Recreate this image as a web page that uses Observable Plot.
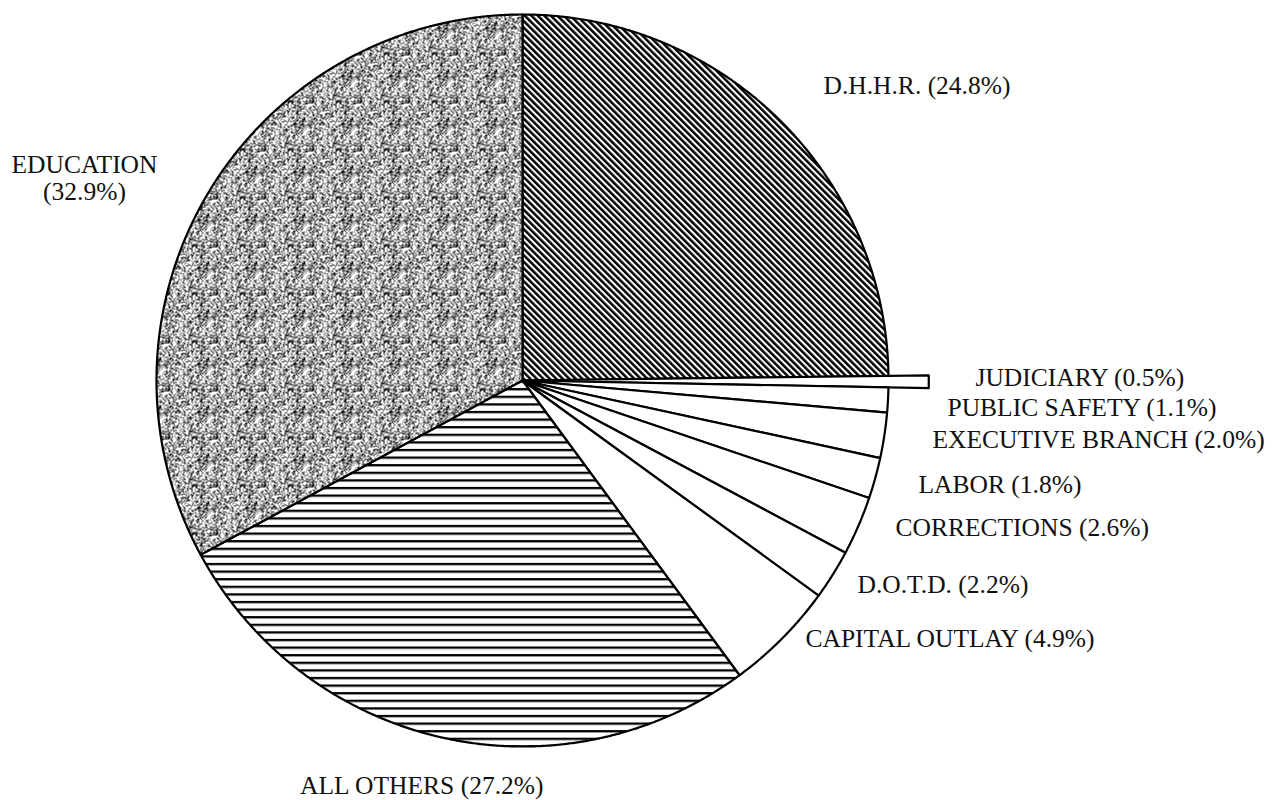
<!DOCTYPE html>
<html><head><meta charset="utf-8">
<script src="https://cdn.jsdelivr.net/npm/d3@7"></script>
<script src="https://cdn.jsdelivr.net/npm/@observablehq/plot@0.6"></script>
<style>html,body{margin:0;padding:0;background:#fff;} #chart svg{display:block;}</style>
</head><body><div id="chart"></div>
<script>
// ---- data ----
const categories = ["D.H.H.R.", "JUDICIARY", "PUBLIC SAFETY", "EXECUTIVE BRANCH", "LABOR", "CORRECTIONS", "D.O.T.D.", "CAPITAL OUTLAY", "ALL OTHERS", "EDUCATION"];
const shares = [24.8, 0.5, 1.1, 2.0, 1.8, 2.6, 2.2, 4.9, 27.2, 32.9];
const labelText = ["D.H.H.R. (24.8%)", "JUDICIARY (0.5%)", "PUBLIC SAFETY (1.1%)", "EXECUTIVE BRANCH (2.0%)", "LABOR (1.8%)", "CORRECTIONS (2.6%)", "D.O.T.D. (2.2%)", "CAPITAL OUTLAY (4.9%)", "ALL OTHERS (27.2%)", "EDUCATION\n(32.9%)"];

// ---- style ----
const sliceFill = ["url(#hatch)", "white", "white", "white", "white", "white", "white", "white", "url(#hlines)", "url(#stipple)"];
const sliceRadius = [1, 1.11, 1, 1, 1, 1, 1, 1, 1, 1];

// ---- layout (pixels) ----
const W = 1276, H = 800, R = 366, CX = 522, CY = 380;
const labelX = [823, 975, 947, 932, 918, 895, 857, 805, 543, 84];
const labelY = [85, 377, 407, 439, 484, 527, 584, 638, 785, 177];
const labelAnchor = ["start", "start", "start", "start", "start", "start", "start", "start", "end", "middle"];

// slice outlines in pie units (radius 1)
const pts = [];
let cum = 0;
shares.forEach((s, i) => {
  const a0 = cum / 100 * 2 * Math.PI;
  cum += s;
  const a1 = cum / 100 * 2 * Math.PI;
  const r = sliceRadius[i];
  const n = Math.max(2, Math.ceil((a1 - a0) / (Math.PI / 720)));
  pts.push({slice: categories[i], fill: sliceFill[i], x: 0, y: 0});
  for (let k = 0; k <= n; k++) {
    const a = a0 + (a1 - a0) * k / n;
    pts.push({slice: categories[i], fill: sliceFill[i], x: r * Math.sin(a), y: r * Math.cos(a)});
  }
  pts.push({slice: categories[i], fill: sliceFill[i], x: 0, y: 0});
});

const labels = categories.map((c, i) => ({
  text: labelText[i],
  anchor: labelAnchor[i],
  x: (labelX[i] - CX) / R,
  y: (CY - labelY[i]) / R
}));

const font = {fontFamily: "'Liberation Serif', 'Times New Roman', serif", fontSize: 25.5, fill: "#111"};

const plot = Plot.plot({
  width: W, height: H,
  margin: 0,
  style: {background: "white"},
  x: {domain: [-CX / R, (W - CX) / R], axis: null},
  y: {domain: [-(H - CY) / R, CY / R], axis: null},
  color: {type: "identity"},
  marks: [
    Plot.line(pts, {x: "x", y: "y", z: "slice", fill: "fill", stroke: "black", strokeWidth: 2.2, strokeLinejoin: "round"}),
    ...["start", "middle", "end"].map(a => Plot.text(labels.filter(d => d.anchor === a), {
      x: "x", y: "y", text: "text", textAnchor: a, lineAnchor: "middle", lineHeight: 1.06, ...font
    }))
  ]
});

// patterns (texture only)
const defs = d3.select(plot).insert("defs", ":first-child");
const hatch = defs.append("pattern").attr("id", "hatch").attr("patternUnits", "userSpaceOnUse")
  .attr("width", 4.6).attr("height", 4.6).attr("patternTransform", "rotate(-45)");
hatch.append("rect").attr("width", 4.6).attr("height", 4.6).attr("fill", "white");
hatch.append("rect").attr("width", 2.5).attr("height", 4.6).attr("fill", "black");

const hl = defs.append("pattern").attr("id", "hlines").attr("patternUnits", "userSpaceOnUse")
  .attr("width", 10).attr("height", 7.6);
hl.append("rect").attr("width", 10).attr("height", 7.6).attr("fill", "white");
hl.append("rect").attr("width", 10).attr("height", 2.3).attr("fill", "black");

// deterministic speckle texture (integer hash)
const T = 48;
const st = defs.append("pattern").attr("id", "stipple").attr("patternUnits", "userSpaceOnUse")
  .attr("width", T).attr("height", T);
st.append("rect").attr("width", T).attr("height", T).attr("fill", "white");
function hash(x, y) {
  let h = Math.imul(x, 374761393) + Math.imul(y, 668265263);
  h = Math.imul(h ^ (h >>> 13), 1274126177);
  h ^= h >>> 16;
  return (h >>> 0) / 4294967296;
}
let dpath = "";
for (let yy = 0; yy < T; yy++) for (let xx = 0; xx < T; xx++) {
  if (hash(xx, yy) < 0.38) dpath += `M${xx},${yy}h1v1h-1z`;
}
st.append("path").attr("d", dpath).attr("fill", "#1a1a1a");

document.getElementById("chart").appendChild(plot);
</script>
</body></html>
